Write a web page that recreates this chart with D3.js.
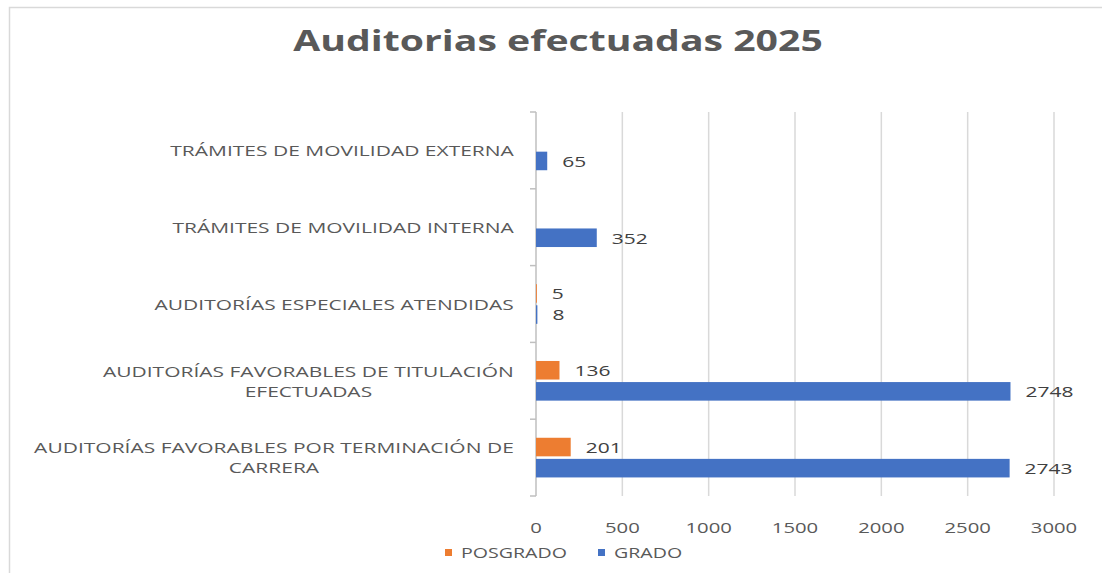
<!DOCTYPE html>
<html>
<head>
<meta charset="utf-8">
<script src="https://cdn.jsdelivr.net/npm/d3@7"></script>
<style>
  body { margin: 0; background: #fff; }
  svg { display: block; font-family: "Open Sans", sans-serif; }
</style>
</head>
<body>
<div id="chart"></div>
<script>
// categories from top to bottom, as in the picture
const categories = [
  "TRÁMITES DE MOVILIDAD EXTERNA",
  "TRÁMITES DE MOVILIDAD INTERNA",
  "AUDITORÍAS ESPECIALES ATENDIDAS",
  "AUDITORÍAS FAVORABLES DE TITULACIÓN EFECTUADAS",
  "AUDITORÍAS FAVORABLES POR TERMINACIÓN DE CARRERA",
];
const categoryLines = [
  ["TRÁMITES DE MOVILIDAD EXTERNA"],
  ["TRÁMITES DE MOVILIDAD INTERNA"],
  ["AUDITORÍAS ESPECIALES ATENDIDAS"],
  ["AUDITORÍAS FAVORABLES DE TITULACIÓN", "EFECTUADAS"],
  ["AUDITORÍAS FAVORABLES POR TERMINACIÓN DE", "CARRERA"],
];
const seriesNames = ["POSGRADO", "GRADO"];
const posgrado = [null, null, 5, 136, 201];
const grado = [65, 352, 8, 2748, 2743];
const xTicks = [0, 500, 1000, 1500, 2000, 2500, 3000];

const colors = { POSGRADO: "#ED7D31", GRADO: "#4472C4" };
const SX = 1.4; // horizontal text stretch of the picture

const width = 1102;
const height = 573;
const plot = { left: 536, right: 1054, top: 112, bottom: 496 };

const svg = d3
  .select("#chart")
  .append("svg")
  .attr("width", width)
  .attr("height", height);

// place a text stretched horizontally
function place(sel, x, y) {
  return sel.attr("transform", `translate(${x},${y}) scale(${SX},1)`);
}

// outer frame (clipped at right and bottom)
svg
  .append("rect")
  .attr("x", 9.5)
  .attr("y", 7.5)
  .attr("width", 1200)
  .attr("height", 700)
  .attr("fill", "none")
  .attr("stroke", "#d9d9d9")
  .attr("stroke-width", 1.5);

// title
place(
  svg
    .append("text")
    .attr("text-anchor", "middle")
    .style("font-size", "28px")
    .style("font-weight", "bold")
    .style("fill", "#595959")
    .text("Auditorias efectuadas 2025"),
  558,
  51
);

const x = d3
  .scaleLinear()
  .domain([0, 3000])
  .range([plot.left, plot.right]);

const y = d3
  .scaleBand()
  .domain(categories)
  .range([plot.top, plot.bottom])
  .padding(0);

const ySub = d3
  .scaleBand()
  .domain(seriesNames)
  .range([0, y.bandwidth()])
  .paddingInner(0.12)
  .paddingOuter(0.88);

// vertical gridlines
svg
  .append("g")
  .selectAll("line")
  .data(xTicks.slice(1))
  .enter()
  .append("line")
  .attr("x1", (d) => x(d))
  .attr("x2", (d) => x(d))
  .attr("y1", plot.top)
  .attr("y2", plot.bottom)
  .attr("stroke", "#d9d9d9")
  .attr("stroke-width", 1.5);

// x tick labels
svg
  .append("g")
  .selectAll("text")
  .data(xTicks)
  .enter()
  .append("text")
  .attr("text-anchor", "middle")
  .attr("transform", (d) => `translate(${x(d)},533) scale(${SX},1)`)
  .style("font-size", "14.5px")
  .style("fill", "#595959")
  .text((d) => d);

// category axis line and ticks
const axis = svg.append("g").attr("stroke", "#bfbfbf").attr("stroke-width", 1.5);
axis
  .append("line")
  .attr("x1", plot.left)
  .attr("x2", plot.left)
  .attr("y1", plot.top)
  .attr("y2", plot.bottom);
axis
  .selectAll(".tick")
  .data(categories.map((c) => y(c)).concat([plot.bottom]))
  .enter()
  .append("line")
  .attr("x1", plot.left - 6)
  .attr("x2", plot.left)
  .attr("y1", (d) => d)
  .attr("y2", (d) => d);

// category labels
const catLabels = svg
  .append("g")
  .selectAll("g")
  .data(categories)
  .enter()
  .append("g");

catLabels.each(function (c, i) {
  const lines = categoryLines[i];
  const cy = y(c) + y.bandwidth() / 2;
  const lineH = 20;
  const g = d3.select(this);
  const t = g
    .append("text")
    .attr("text-anchor", "middle")
    .style("font-size", "15px")
    .style("fill", "#595959");
  lines.forEach((line, j) => {
    t.append("tspan")
      .attr("x", 0)
      .attr("y", (j - (lines.length - 1) / 2) * lineH)
      .attr("dominant-baseline", "central")
      .text(line);
  });
  // right align the block at x = 514
  const w = d3.max(t.selectAll("tspan").nodes(), (n) => n.getComputedTextLength());
  place(t, 514 - (w * SX) / 2, cy);
});

// bars
const rows = categories.map((c, i) => ({
  category: c,
  POSGRADO: posgrado[i],
  GRADO: grado[i],
}));

seriesNames.forEach((s) => {
  const data = rows.filter((d) => d[s] !== null);
  svg
    .append("g")
    .selectAll("rect")
    .data(data)
    .enter()
    .append("rect")
    .attr("x", x(0))
    .attr("y", (d) => y(d.category) + ySub(s))
    .attr("width", (d) => x(d[s]) - x(0))
    .attr("height", ySub.bandwidth())
    .attr("fill", colors[s]);

  svg
    .append("g")
    .selectAll("text")
    .data(data)
    .enter()
    .append("text")
    .attr("dominant-baseline", "central")
    .attr(
      "transform",
      (d) =>
        `translate(${x(d[s]) + 15},${
          y(d.category) + ySub(s) + ySub.bandwidth() / 2
        }) scale(${SX},1)`
    )
    .style("font-size", "15px")
    .style("fill", "#404040")
    .text((d) => d[s]);
});

// legend
const legendX = { POSGRADO: 445, GRADO: 598 };
const legend = svg
  .append("g")
  .selectAll("g")
  .data(seriesNames)
  .enter()
  .append("g");

legend
  .append("rect")
  .attr("x", (d) => legendX[d])
  .attr("y", 549)
  .attr("width", 7)
  .attr("height", 7)
  .attr("fill", (d) => colors[d]);

legend
  .append("text")
  .attr("dominant-baseline", "central")
  .attr("transform", (d) => `translate(${legendX[d] + 16},553) scale(${SX},1)`)
  .style("font-size", "14px")
  .style("fill", "#595959")
  .text((d) => d);
</script>
</body>
</html>
